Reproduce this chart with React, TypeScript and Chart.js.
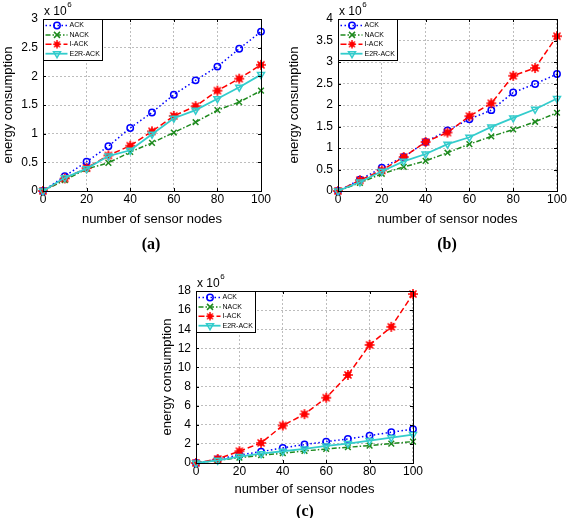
import React, { useEffect, useRef } from "react";
import { Chart, registerables } from "chart.js";

Chart.register(...registerables);

// ---------- data (energy consumption, units of 10^6) ----------
const nodes = [0, 10, 20, 30, 40, 50, 60, 70, 80, 90, 100];
const seriesLabels = ["ACK", "NACK", "I-ACK", "E2R-ACK"];

// panel (a)
const ackA = [0, 0.26, 0.51, 0.78, 1.1, 1.37, 1.68, 1.93, 2.17, 2.48, 2.78];
const nackA = [0, 0.19, 0.385, 0.49, 0.68, 0.84, 1.02, 1.2, 1.41, 1.55, 1.75];
const iackA = [0, 0.22, 0.4, 0.62, 0.79, 1.04, 1.31, 1.48, 1.75, 1.96, 2.2];
const e2rA = [0, 0.23, 0.39, 0.61, 0.71, 0.99, 1.27, 1.41, 1.61, 1.81, 2.03];

// panel (b)
const ackB = [0, 0.26, 0.54, 0.79, 1.14, 1.41, 1.67, 1.88, 2.29, 2.49, 2.72];
const nackB = [0, 0.19, 0.4, 0.56, 0.7, 0.89, 1.09, 1.27, 1.43, 1.61, 1.82];
const iackB = [0, 0.25, 0.48, 0.79, 1.14, 1.36, 1.74, 2.04, 2.68, 2.86, 3.6];
const e2rB = [0, 0.21, 0.46, 0.69, 0.86, 1.09, 1.25, 1.49, 1.7, 1.9, 2.15];

// panel (c)
const ackC = [0, 0.39, 0.84, 1.19, 1.58, 1.93, 2.24, 2.52, 2.87, 3.22, 3.54];
const nackC = [0, 0.28, 0.56, 0.81, 1.02, 1.26, 1.47, 1.65, 1.82, 2.03, 2.24];
const iackC = [0, 0.42, 1.23, 2.1, 3.92, 5.11, 6.83, 9.21, 12.36, 14.25, 17.68];
const e2rC = [0, 0.28, 0.67, 0.98, 1.23, 1.47, 1.79, 2.03, 2.35, 2.66, 2.98];

const xMax = 100;
const xStep = 20;
const yMaxes = [3, 4, 18];
const ySteps = [0.5, 0.5, 2];
const captions = ["(a)", "(b)", "(c)"];
const xTitle = "number of sensor nodes";
const yTitle = "energy consumption";

// ---------- styles ----------
const FONT = "'Liberation Sans', Arial, Helvetica, sans-serif";
const seriesStyles = [
  { color: "#0000ff", dash: [1.5, 2.5], marker: "circle" },
  { color: "#1e8a1e", dash: [5, 2, 1.5, 2], marker: "x" },
  { color: "#ff0000", dash: [6, 3], marker: "star" },
  { color: "#33cccc", dash: [], marker: "tri" },
];

type Layout = {
  left: number; top: number; w: number; h: number;
  plotL: number; plotR: number; plotT: number; plotB: number;
  yTitleX: number; xTitleY: number; capX: number; capY: number;
};

const layouts: Layout[] = [
  { left: 0, top: 0, w: 284, h: 240, plotL: 43, plotR: 261, plotT: 19, plotB: 191, yTitleX: 8, xTitleY: 219, capX: 151, capY: 244 },
  { left: 284, top: 0, w: 284, h: 240, plotL: 338, plotR: 557, plotT: 19, plotB: 191, yTitleX: 294.5, xTitleY: 219, capX: 447, capY: 244 },
  { left: 140, top: 250, w: 284, h: 268, plotL: 196, plotR: 414, plotT: 291, plotB: 463, yTitleX: 167.5, xTitleY: 489, capX: 305, capY: 511 },
];

function makeStarImage(color: string) {
  const c = document.createElement("canvas");
  c.width = 12;
  c.height = 12;
  const g = c.getContext("2d")!;
  g.fillStyle = color;
  g.strokeStyle = color;
  g.lineWidth = 1.6;
  g.beginPath();
  g.arc(6, 6, 3, 0, Math.PI * 2);
  g.fill();
  g.beginPath();
  for (let i = 0; i < 4; i++) {
    const a = (i * Math.PI) / 4;
    g.moveTo(6 + Math.cos(a) * 5, 6 + Math.sin(a) * 5);
    g.lineTo(6 - Math.cos(a) * 5, 6 - Math.sin(a) * 5);
  }
  g.stroke();
  return c;
}

function drawMarker(ctx: CanvasRenderingContext2D, kind: string, x: number, y: number, color: string, star: HTMLCanvasElement) {
  ctx.save();
  ctx.setLineDash([]);
  ctx.strokeStyle = color;
  ctx.lineWidth = 1.5;
  if (kind === "circle") {
    ctx.beginPath();
    ctx.arc(x, y, 3.2, 0, Math.PI * 2);
    ctx.stroke();
  } else if (kind === "x") {
    ctx.beginPath();
    ctx.moveTo(x - 3, y - 3);
    ctx.lineTo(x + 3, y + 3);
    ctx.moveTo(x + 3, y - 3);
    ctx.lineTo(x - 3, y + 3);
    ctx.stroke();
  } else if (kind === "star") {
    ctx.drawImage(star, x - 5, y - 5, 10, 10);
  } else {
    let rad = Math.PI;
    const r = 4;
    ctx.beginPath();
    ctx.moveTo(x + Math.sin(rad) * r, y - Math.cos(rad) * r);
    rad += (2 * Math.PI) / 3;
    ctx.lineTo(x + Math.sin(rad) * r, y - Math.cos(rad) * r);
    rad += (2 * Math.PI) / 3;
    ctx.lineTo(x + Math.sin(rad) * r, y - Math.cos(rad) * r);
    ctx.closePath();
    ctx.stroke();
  }
  ctx.restore();
}

function Panel({ idx, series }: { idx: number; series: number[][] }) {
  const ref = useRef<HTMLCanvasElement>(null);
  const L = layouts[idx];
  useEffect(() => {
    const canvas = ref.current!;
    const star = makeStarImage(seriesStyles[2].color);
    const datasets = series.map((vals, i) => {
      const st = seriesStyles[i];
      const base: any = {
        label: seriesLabels[i],
        data: nodes.map((n, k) => ({ x: n, y: vals[k] })),
        borderColor: st.color,
        backgroundColor: st.color,
        borderWidth: 1.5,
        borderDash: st.dash,
        pointBorderColor: st.color,
        pointBorderWidth: 1.5,
        tension: 0,
        clip: false,
        order: 4 - i,
      };
      if (st.marker === "circle") {
        base.pointStyle = "circle";
        base.pointRadius = 3.2;
        base.pointBackgroundColor = "rgba(0,0,0,0)";
      } else if (st.marker === "x") {
        base.pointStyle = "crossRot";
        base.pointRadius = 4;
      } else if (st.marker === "star") {
        base.pointStyle = star;
        base.pointRadius = 5;
      } else {
        base.pointStyle = "triangle";
        base.pointRotation = 180;
        base.pointRadius = 4;
        base.pointBackgroundColor = "rgba(0,0,0,0)";
        base.borderWidth = 1.8;
      }
      return base;
    });

    const frame = {
      id: "matlabFrame",
      afterDraw(chart: any) {
        const ctx: CanvasRenderingContext2D = chart.ctx;
        const a = chart.chartArea;
        const xs = chart.scales.x;
        const ys = chart.scales.y;
        ctx.save();
        ctx.setLineDash([]);
        ctx.strokeStyle = "#000";
        ctx.lineWidth = 1;
        // inward ticks
        ctx.beginPath();
        xs.ticks.forEach((t: any) => {
          const px = Math.round(xs.getPixelForValue(t.value)) + 0.5;
          ctx.moveTo(px, a.bottom);
          ctx.lineTo(px, a.bottom - 3);
          ctx.moveTo(px, a.top);
          ctx.lineTo(px, a.top + 3);
        });
        ys.ticks.forEach((t: any) => {
          const py = Math.round(ys.getPixelForValue(t.value)) + 0.5;
          ctx.moveTo(a.left, py);
          ctx.lineTo(a.left + 3, py);
          ctx.moveTo(a.right, py);
          ctx.lineTo(a.right - 3, py);
        });
        ctx.stroke();
        // box
        ctx.strokeRect(Math.round(a.left) + 0.5, Math.round(a.top) + 0.5, Math.round(a.right - a.left), Math.round(a.bottom - a.top));
        // exponent label
        ctx.fillStyle = "#000";
        ctx.textBaseline = "middle";
        ctx.textAlign = "left";
        ctx.font = `12px ${FONT}`;
        const base = "x 10";
        ctx.fillText(base, a.left + 1, a.top - 7);
        const bw = ctx.measureText(base).width;
        ctx.font = `8px ${FONT}`;
        ctx.fillText("6", a.left + 1 + bw + 0.5, a.top - 14);
        // legend
        const lx = Math.round(a.left) + 0.5;
        const ly = Math.round(a.top) + 0.5;
        const lw = 59;
        const lh = 41;
        ctx.fillStyle = "#fff";
        ctx.fillRect(lx, ly, lw, lh);
        ctx.strokeStyle = "#000";
        ctx.strokeRect(lx, ly, lw, lh);
        seriesLabels.forEach((lab, i) => {
          const st = seriesStyles[i];
          const yy = ly + 6 + i * 9.4;
          ctx.save();
          ctx.strokeStyle = st.color;
          ctx.lineWidth = st.marker === "tri" ? 1.8 : 1.5;
          ctx.setLineDash(st.dash);
          ctx.beginPath();
          ctx.moveTo(lx + 2, yy);
          ctx.lineTo(lx + 24, yy);
          ctx.stroke();
          ctx.restore();
          drawMarker(ctx, st.marker, lx + 13.5, yy, st.color, star);
          ctx.fillStyle = "#000";
          ctx.font = `7px ${FONT}`;
          ctx.textBaseline = "middle";
          ctx.textAlign = "left";
          ctx.fillText(lab, lx + 26, yy);
        });
        ctx.restore();
      },
    };

    const padTop = L.plotT - L.top;
    const padRight = L.left + L.w - L.plotR;
    const yW = L.plotL - L.left;
    const xH = L.top + L.h - L.plotB;
    const yTitlePad = L.yTitleX - L.left - 7.8;
    const xTitlePad = L.top + L.h - L.xTitleY - 7.8;

    const chart = new Chart(canvas, {
      type: "line",
      data: { datasets },
      plugins: [frame],
      options: {
        animation: false,
        responsive: false,
        maintainAspectRatio: false,
        devicePixelRatio: 1,
        layout: { padding: { top: padTop, right: padRight, left: 0, bottom: 0 } },
        plugins: { legend: { display: false }, tooltip: { enabled: false } },
        scales: {
          x: {
            type: "linear",
            min: 0,
            max: xMax,
            afterFit: (s: any) => {
              s.height = xH;
            },
            grid: { color: "#bdbdbd", lineWidth: 1, drawTicks: false },
            border: { display: true, color: "#000", width: 1, dash: [2, 2] },
            ticks: { stepSize: xStep, color: "#000", font: { family: FONT, size: 12 }, padding: 1, maxRotation: 0, autoSkip: false, callback: (v: any) => String(v) },
            title: { display: true, text: xTitle, color: "#000", font: { family: FONT, size: 13 }, padding: { top: 0, bottom: xTitlePad } },
          },
          y: {
            type: "linear",
            min: 0,
            max: yMaxes[idx],
            afterFit: (s: any) => {
              s.width = yW;
            },
            grid: { color: "#bdbdbd", lineWidth: 1, drawTicks: false },
            border: { display: true, color: "#000", width: 1, dash: [2, 2] },
            ticks: { stepSize: ySteps[idx], color: "#000", font: { family: FONT, size: 12 }, padding: 5, autoSkip: false, callback: (v: any) => String(Math.round(Number(v) * 100) / 100) },
            title: { display: true, text: yTitle, color: "#000", font: { family: FONT, size: 13 }, padding: { top: yTitlePad, bottom: 0 } },
          },
        },
      } as any,
    });
    return () => chart.destroy();
  }, [idx, series]);

  return (
    <>
      <canvas
        ref={ref}
        width={L.w}
        height={L.h}
        style={{ position: "absolute", left: L.left, top: L.top, width: L.w, height: L.h }}
      />
      <div
        style={{
          position: "absolute",
          left: L.capX - 30,
          top: L.capY - 10,
          width: 60,
          height: 20,
          lineHeight: "20px",
          textAlign: "center",
          fontFamily: "'Liberation Serif', 'Times New Roman', serif",
          fontWeight: "bold",
          fontSize: 16,
          color: "#000",
        }}
      >
        {captions[idx]}
      </div>
    </>
  );
}

const panelSeries = [
  [ackA, nackA, iackA, e2rA],
  [ackB, nackB, iackB, e2rB],
  [ackC, nackC, iackC, e2rC],
];

export default function App() {
  return (
    <div style={{ position: "absolute", left: 0, top: 0, width: 568, height: 518, background: "#fff", overflow: "hidden" }}>
      {panelSeries.map((s, i) => (
        <Panel key={i} idx={i} series={s} />
      ))}
    </div>
  );
}
